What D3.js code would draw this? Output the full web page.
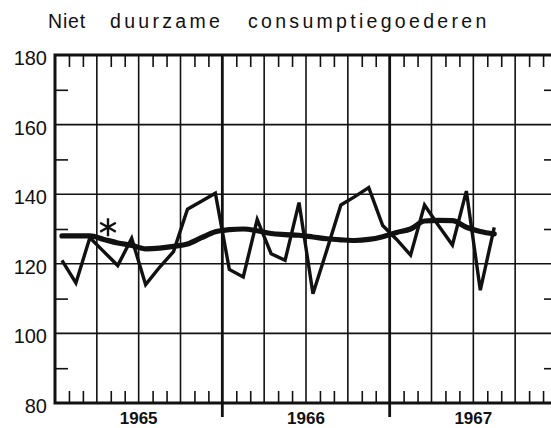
<!DOCTYPE html>
<html>
<head>
<meta charset="utf-8">
<script src="https://cdn.jsdelivr.net/npm/d3@7"></script>
<style>
  html, body { margin: 0; padding: 0; background: #fff; }
  svg { display: block; }
  text { font-family: "Liberation Sans", Arial, sans-serif; fill: #111; }
</style>
</head>
<body>
<svg id="chart" width="551" height="428"></svg>
<script>
/* Niet duurzame consumptiegoederen — maandcijfers 1965-1967 */

const TITLE = "Niet duurzame consumptiegoederen";
const YEARS = [1965, 1966, 1967];

// maandwaarden, jan 1965 .. aug 1967
const MONTHLY = [121, 114.5, 127.5, 123.5, 119.5, 127.3, 114, 119, 123.5, 135.7, 138, 140.3,
  118.4, 116.2, 132.7, 122.9, 121, 137.6, 111.4, 124, 136.9, 139.3, 141.9, 131,
  127, 122.5, 136.9, 131, 125.4, 140.9, 112.4, 130.5];

// trend (voortschrijdend gemiddelde)
const TREND = [128, 128, 128, 127, 126, 125.3, 124.3, 124.5, 125, 125.7, 127.5, 129.2,
  129.8, 130, 129.5, 128.7, 128.4, 128.2, 127.7, 127.2, 126.9, 126.7, 127, 127.8,
  129, 130, 132.3, 132.5, 132.4, 130.5, 129.3, 128.6];

const Y_LABELS = [80, 100, 120, 140, 160, 180];
const Y_MINOR = [90, 110, 130, 150, 170];
const MARK = { month: 3.8, value: 130.5 };

const svg = d3.select("#chart");
const M = { left: 55, right: 557, top: 55, bottom: 403 };

const x = d3.scaleLinear().domain([0, 36]).range([M.left, M.right]);
const y = d3.scaleLinear().domain([80, 180]).range([M.bottom, M.top]);

const months = d3.range(0, 37);
const quarterMonths = months.filter(m => m % 3 === 0 && m % 12 !== 0);
const yearMonths = months.filter(m => m % 12 === 0 && m > 0);
const smallTicks = months.filter(m => m % 3 !== 0);

// titel, woorden ver uit elkaar zoals in het origineel
const titleWordX = [48, 110, 248];
const titleSpacing = [0.8, 3.3, 3.3];
svg.append("text")
  .attr("y", 28)
  .style("font-size", "19.5px")
  .selectAll("tspan")
  .data(TITLE.split(" "))
  .enter().append("tspan")
  .attr("x", (d, i) => titleWordX[i])
  .style("letter-spacing", (d, i) => titleSpacing[i] + "px")
  .text(d => d);

const g = svg.append("g");

// horizontale rasterlijnen
g.selectAll(".hgrid")
  .data(Y_LABELS.filter(v => v > 80 && v < 180))
  .enter().append("line")
  .attr("x1", M.left).attr("x2", M.right)
  .attr("y1", d => y(d)).attr("y2", d => y(d))
  .attr("stroke", "#111").attr("stroke-width", 1.6);

// kwartaallijnen
g.selectAll(".qgrid")
  .data(quarterMonths)
  .enter().append("line")
  .attr("x1", d => x(d)).attr("x2", d => x(d))
  .attr("y1", M.top).attr("y2", M.bottom)
  .attr("stroke", "#111").attr("stroke-width", 1.6);

// jaargrenzen, lopen door onder de as
g.selectAll(".ygrid")
  .data(yearMonths)
  .enter().append("line")
  .attr("x1", d => x(d)).attr("x2", d => x(d))
  .attr("y1", M.top).attr("y2", M.bottom + 14)
  .attr("stroke", "#111").attr("stroke-width", 2.8);

// maandstreepjes onder en boven
const bottomAxis = g.append("g")
  .attr("transform", `translate(0,${M.bottom})`)
  .call(d3.axisBottom(x).tickValues(smallTicks).tickSize(-12).tickFormat(""));
const topAxis = g.append("g")
  .attr("transform", `translate(0,${M.top})`)
  .call(d3.axisTop(x).tickValues(smallTicks).tickSize(-12).tickFormat(""));

// tussenstreepjes links en rechts
const leftMinor = g.append("g")
  .attr("transform", `translate(${M.left},0)`)
  .call(d3.axisLeft(y).tickValues(Y_MINOR).tickSize(-13).tickFormat(""));
const rightMinor = g.append("g")
  .attr("transform", `translate(${M.right},0)`)
  .call(d3.axisRight(y).tickValues(Y_MINOR).tickSize(-13).tickFormat(""));

[bottomAxis, topAxis, leftMinor, rightMinor].forEach(a => {
  a.select(".domain").remove();
  a.selectAll("line").attr("stroke", "#111").attr("stroke-width", 1.6);
});

// labels y-as
const leftAxis = g.append("g")
  .attr("transform", `translate(${M.left},0)`)
  .call(d3.axisLeft(y).tickValues(Y_LABELS).tickSize(0).tickPadding(8));
leftAxis.select(".domain").remove();
leftAxis.selectAll("text")
  .attr("y", 3)
  .style("font-size", "20px")
  .style("font-family", "'Liberation Sans', Arial, sans-serif")
  .attr("fill", "#111");

// jaartallen
g.selectAll(".year")
  .data(YEARS)
  .enter().append("text")
  .attr("x", (d, i) => x(i * 12 + 6))
  .attr("y", 424)
  .attr("text-anchor", "middle")
  .style("font-size", "17px")
  .style("font-weight", "bold")
  .text(d => d);

// kader
g.append("path")
  .attr("d", `M${M.right},${M.top}H${M.left}V${M.bottom}H${M.right}V${M.top}`)
  .attr("fill", "none")
  .attr("stroke", "#111")
  .attr("stroke-width", 3);

// maandreeks
const line = d3.line()
  .x((d, i) => x(i + 0.5))
  .y(d => y(d));

g.append("path")
  .datum(MONTHLY)
  .attr("d", line)
  .attr("fill", "none")
  .attr("stroke", "#111")
  .attr("stroke-width", 3.4)
  .attr("stroke-linejoin", "miter");

// trendlijn
const trendLine = d3.line()
  .x((d, i) => x(i + 0.5))
  .y(d => y(d))
  .curve(d3.curveMonotoneX);

g.append("path")
  .datum(TREND)
  .attr("d", trendLine)
  .attr("fill", "none")
  .attr("stroke", "#111")
  .attr("stroke-width", 5.2)
  .attr("stroke-linecap", "round");

// sterretje
g.append("path")
  .attr("d", d3.symbol(d3.symbolAsterisk, 230)())
  .attr("transform", `translate(${x(MARK.month)},${y(MARK.value)})`)
  .attr("fill", "none")
  .attr("stroke", "#111")
  .attr("stroke-width", 2.4);
</script>
</body>
</html>
